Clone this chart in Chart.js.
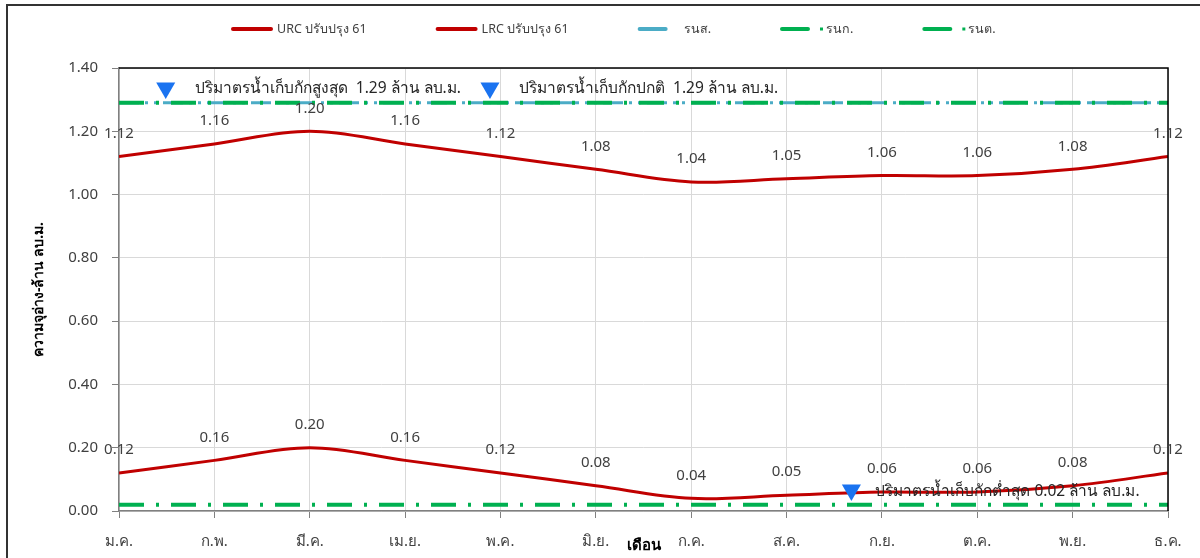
<!DOCTYPE html>
<html><head><meta charset="utf-8">
<script src="https://cdn.jsdelivr.net/npm/chart.js@4/dist/chart.umd.min.js"></script>
<style>html,body{margin:0;padding:0;background:#fff}#wrap{width:1200px;height:558px;position:relative}</style>
</head><body><div id="wrap"><canvas id="c" width="1200" height="558"></canvas></div>
<script>
const months = ['ม.ค.','ก.พ.','มี.ค.','เม.ย.','พ.ค.','มิ.ย.','ก.ค.','ส.ค.','ก.ย.','ต.ค.','พ.ย.','ธ.ค.'];
const urc = [1.12,1.16,1.20,1.16,1.12,1.08,1.04,1.05,1.06,1.06,1.08,1.12];
const lrc = [0.12,0.16,0.20,0.16,0.12,0.08,0.04,0.05,0.06,0.06,0.08,0.12];
const maxStorage = [1.29, 1.29];     // รนส.
const normalStorage = [1.29, 1.29];  // รนก.
const minStorage = [0.02, 0.02];     // รนต.
const markerX = [0.49, 3.89, 7.68];
const markerY = [1.337, 1.337, 0.066];
const markerText = ['ปริมาตรน้ำเก็บกักสูงสุด  1.29 ล้าน ลบ.ม.', 'ปริมาตรน้ำเก็บกักปกติ  1.29 ล้าน ลบ.ม.', 'ปริมาตรน้ำเก็บกักต่ำสุด 0.02 ล้าน ลบ.ม.'];
const seriesNames = ['URC ปรับปรุง 61', 'LRC ปรับปรุง 61', 'รนส.', 'รนก.', 'รนต.'];
const yTitle = 'ความจุอ่าง-ล้าน ลบ.ม.';
const xTitle = 'เดือน';

const FONT = "'Noto Sans', Tahoma, 'DejaVu Sans', sans-serif";
const RED = '#C00000', GREEN = '#00B050', BLUE = '#4BACC6', TRI = '#1A73F0';
const lastIdx = months.length - 1;
const asXY = arr => arr.map((v, i) => ({x: i, y: v}));
const span = arr => [{x: 0, y: arr[0]}, {x: lastIdx, y: arr[1]}];

const datasets = [
  {label: seriesNames[0], data: asXY(urc), borderColor: RED, borderWidth: 3, tension: 0.35, pointRadius: 0, order: 1, showValues: true, legendLen: 40},
  {label: seriesNames[1], data: asXY(lrc), borderColor: RED, borderWidth: 3, tension: 0.35, pointRadius: 0, order: 1, showValues: true, legendLen: 40},
  {label: seriesNames[2], data: span(maxStorage), borderColor: BLUE, borderWidth: 3, borderDash: [20,6,3,6,3,6], pointRadius: 0, order: 3, legendLen: 28},
  {label: seriesNames[3], data: span(normalStorage), borderColor: GREEN, borderWidth: 4, borderDash: [25,12,3,12], pointRadius: 0, order: 2, legendLen: 28, legendDot: true},
  {label: seriesNames[4], data: span(minStorage), borderColor: GREEN, borderWidth: 4, borderDash: [25,12,3,12], pointRadius: 0, order: 2, legendLen: 28, legendDot: true},
  {label: 'markers', type: 'scatter', data: markerX.map((x, i) => ({x, y: markerY[i]})), pointStyle: 'triangle', rotation: 180, radius: 11, backgroundColor: TRI, borderColor: TRI, borderWidth: 0, order: 0, noLegend: true, texts: markerText}
];

const extras = {
  id: 'extras',
  afterDatasetsDraw(chart) {
    const ctx = chart.ctx;
    const a = chart.chartArea;
    ctx.save();
    ctx.strokeStyle = '#000'; ctx.lineWidth = 1.5;
    ctx.beginPath(); ctx.moveTo(a.left, a.top); ctx.lineTo(a.right, a.top); ctx.lineTo(a.right, a.bottom); ctx.stroke();
    ctx.font = '15px ' + FONT; ctx.fillStyle = '#404040'; ctx.textAlign = 'center'; ctx.textBaseline = 'middle';
    chart.data.datasets.forEach((ds, di) => {
      const meta = chart.getDatasetMeta(di);
      if (ds.showValues) {
        meta.data.forEach((pt, i) => ctx.fillText(ds.data[i].y.toFixed(2), pt.x, pt.y - 23));
      }
      if (ds.texts) {
        ctx.textAlign = 'left'; ctx.fillStyle = '#262626'; ctx.font = '15.5px ' + FONT;
        meta.data.forEach((pt, i) => ctx.fillText(ds.texts[i], pt.x + (i < 2 ? 29 : 24), pt.y + 1));
        ctx.textAlign = 'center'; ctx.fillStyle = '#404040'; ctx.font = '15px ' + FONT;
      }
    });
    ctx.restore();
  },
  afterDraw(chart) {
    const ctx = chart.ctx;
    ctx.save();
    ctx.strokeStyle = '#333'; ctx.lineWidth = 2;
    ctx.beginPath(); ctx.moveTo(7, chart.height); ctx.lineTo(7, 5); ctx.lineTo(chart.width, 5); ctx.stroke();
    ctx.font = '12.5px ' + FONT; ctx.textBaseline = 'middle'; ctx.textAlign = 'left'; ctx.fillStyle = '#404040';
    let x = 232; const y = 29;
    chart.data.datasets.forEach(ds => {
      if (ds.noLegend) return;
      ctx.strokeStyle = ds.borderColor; ctx.lineWidth = 4; ctx.lineCap = 'round';
      ctx.beginPath(); ctx.moveTo(x + 1, y); ctx.lineTo(x + ds.legendLen - 1, y); ctx.stroke();
      if (ds.legendDot) { ctx.fillStyle = ds.borderColor; ctx.fillRect(x + 39, y - 1.5, 3, 3); }
      ctx.fillStyle = '#404040';
      ctx.fillText(ds.label, x + 45, y);
      x += 45 + ctx.measureText(ds.label).width + 70;
    });
    ctx.restore();
  }
};

new Chart(document.getElementById('c'), {
  type: 'line',
  data: {datasets},
  plugins: [extras],
  options: {
    responsive: false, animation: false, devicePixelRatio: 1,
    layout: {padding: {left: 0, right: 32, top: 68, bottom: 0}},
    plugins: {legend: {display: false}, tooltip: {enabled: false}},
    scales: {
      x: {
        type: 'linear', min: 0, max: lastIdx,
        afterFit: s => { s.height = 47; },
        ticks: {stepSize: 1, autoSkip: false, maxRotation: 0, padding: 15, color: '#404040', font: {family: FONT, size: 15},
          callback: v => months[v]},
        grid: {color: '#D9D9D9', lineWidth: 1, tickLength: 7, tickColor: '#808080'},
        border: {color: '#808080', width: 1.5},
        title: {display: true, text: xTitle, color: '#000', font: {family: FONT, size: 15, weight: 'bold'}, padding: {top: 0, bottom: 3}}
      },
      y: {
        min: 0, max: 1.4,
        afterFit: s => { s.width = 119; },
        ticks: {stepSize: 0.2, padding: 14, color: '#404040', font: {family: FONT, size: 15}, callback: v => v.toFixed(2)},
        grid: {color: '#D9D9D9', lineWidth: 1, tickLength: 7, tickColor: '#808080'},
        border: {color: '#808080', width: 1.5},
        title: {display: true, text: yTitle, color: '#000', font: {family: FONT, size: 14, weight: 'bold'}, padding: {top: 31, bottom: 0}}
      }
    }
  }
});
</script></body></html>
